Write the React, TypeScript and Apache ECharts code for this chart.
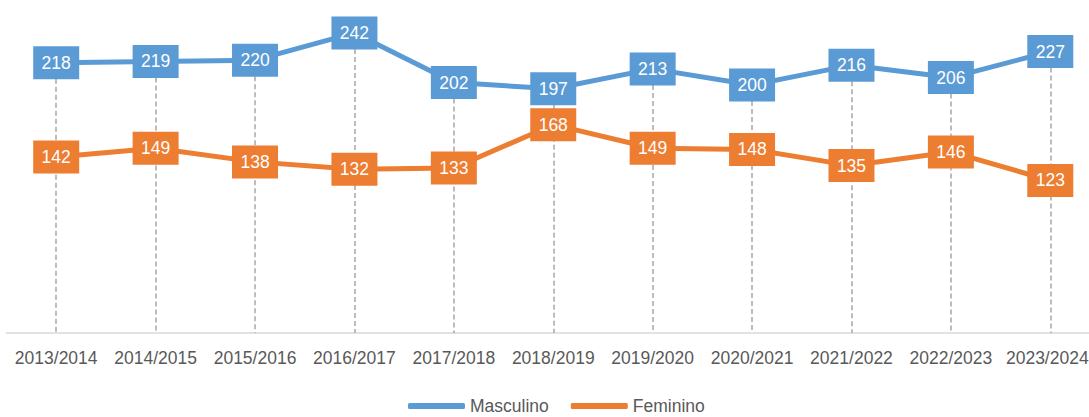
import React, { useEffect, useRef } from "react";
import * as echarts from "echarts";

const categories = ["2013/2014", "2014/2015", "2015/2016", "2016/2017", "2017/2018", "2018/2019", "2019/2020", "2020/2021", "2021/2022", "2022/2023", "2023/2024"];
const masculino = [218, 219, 220, 242, 202, 197, 213, 200, 216, 206, 227];
const feminino = [142, 149, 138, 132, 133, 168, 149, 148, 135, 146, 123];

const FONT = "'Liberation Sans', Arial, sans-serif";

export default function App() {
  const ref = useRef<HTMLDivElement>(null);
  useEffect(() => {
    if (!ref.current) return;
    const chart = echarts.init(ref.current, undefined, { renderer: "svg" });
    const dropData = categories.map((c, i) => [
      { coord: [c, Math.max(masculino[i], feminino[i])] },
      { coord: [c, 0] },
    ]);
    const labelCfg = {
      show: true,
      position: "inside",
      color: "#ffffff",
      fontSize: 17.5,
      fontFamily: FONT,
    };
    const lastIdx = categories.length - 1;
    chart.setOption({
      animation: false,
      grid: { left: 6.5, right: 0, top: 23, bottom: 84 },
      legend: {
        top: 392,
        left: 403,
        icon: "roundRect",
        itemWidth: 57,
        itemHeight: 6,
        itemGap: 22,
        textStyle: { color: "#595959", fontSize: 17.5, fontFamily: FONT },
        data: ["Masculino", "Feminino"],
      },
      xAxis: {
        type: "category",
        data: categories,
        boundaryGap: true,
        axisLine: { lineStyle: { color: "#D9D9D9", width: 1.5 } },
        axisTick: { show: false },
        axisLabel: {
          color: "#595959",
          fontSize: 17.5,
          fontFamily: FONT,
          margin: 16,
          interval: 0,
          formatter: (v: string, i: number) => (i === lastIdx ? "{last|" + v + "}" : v),
          rich: {
            last: { color: "#595959", fontSize: 17.5, fontFamily: FONT, padding: [0, 6, 0, 0] },
          },
        },
      },
      yAxis: {
        type: "value",
        min: 0,
        max: 250,
        show: false,
        splitLine: { show: false },
      },
      series: [
        {
          name: "Masculino",
          type: "line",
          data: masculino,
          color: "#5B9BD5",
          lineStyle: { width: 5, color: "#5B9BD5" },
          symbol: "rect",
          symbolSize: [46, 33],
          itemStyle: { color: "#5B9BD5" },
          label: labelCfg,
          z: 3,
          markLine: {
            silent: true,
            symbol: "none",
            label: { show: false },
            lineStyle: { color: "#A6A6A6", type: [5, 3], width: 1.5 },
            data: dropData,
            z: 1,
          },
        },
        {
          name: "Feminino",
          type: "line",
          data: feminino,
          color: "#ED7D31",
          lineStyle: { width: 5, color: "#ED7D31" },
          symbol: "rect",
          symbolSize: [46, 33],
          itemStyle: { color: "#ED7D31" },
          label: labelCfg,
          z: 4,
        },
      ],
    });
    return () => chart.dispose();
  }, []);
  return (
    <div style={{ position: "absolute", left: 0, top: 0, width: 1089, height: 417, overflow: "hidden" }}>
      <div ref={ref} style={{ width: 1100, height: 417 }} />
    </div>
  );
}
